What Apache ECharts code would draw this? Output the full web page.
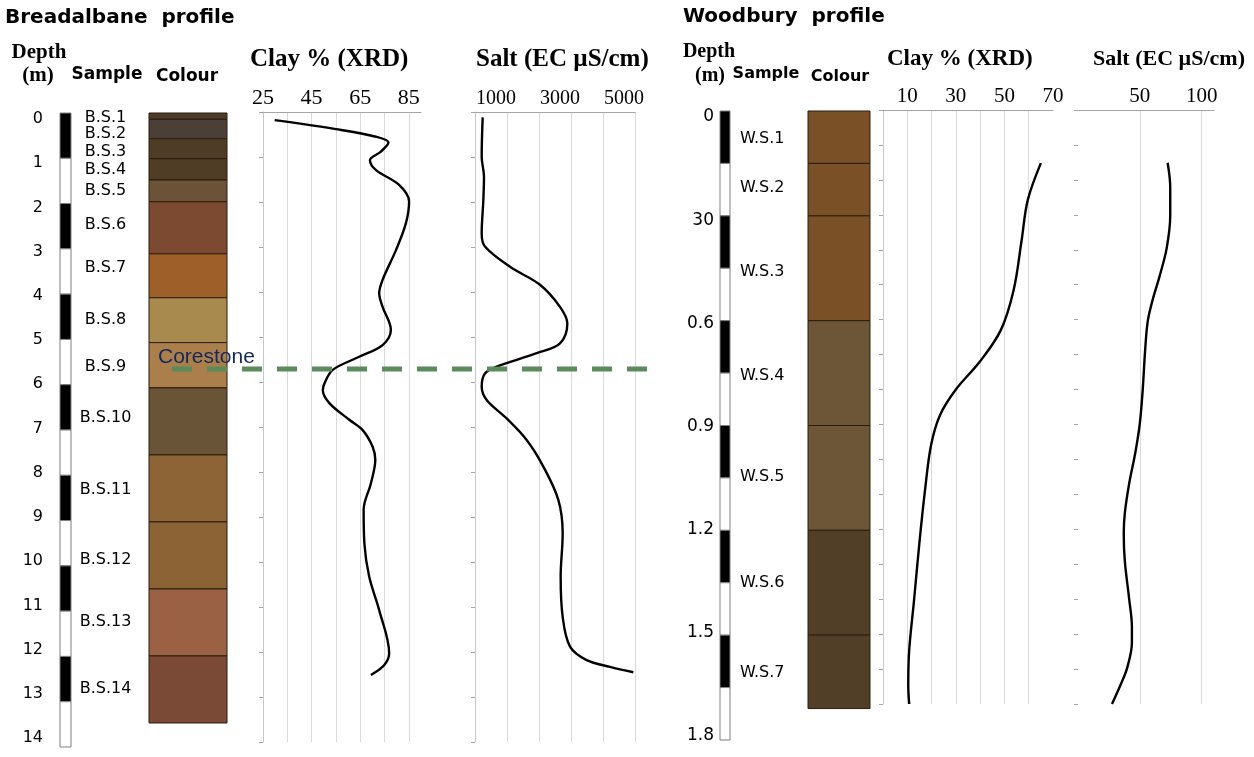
<!DOCTYPE html>
<html><head><meta charset="utf-8">
<script src="https://cdn.jsdelivr.net/npm/echarts@6/dist/echarts.min.js"></script>
<style>html,body{margin:0;padding:0;background:#fff}#c{width:1254px;height:757px}</style>
</head><body><div id="c"></div>
<script>
// ---------------- DATA ----------------
// Breadalbane profile
const bDepthTicks = [0,1,2,3,4,5,6,7,8,9,10,11,12,13,14];
const bSampleNames = ['B.S.1','B.S.2','B.S.3','B.S.4','B.S.5','B.S.6','B.S.7','B.S.8','B.S.9','B.S.10','B.S.11','B.S.12','B.S.13','B.S.14'];
const bSampleDepths = [0.11,0.46,0.86,1.25,1.72,2.47,3.42,4.57,5.6,6.73,8.32,9.87,11.24,12.71];
const bLayerTops    = [0,0.14,0.57,1.01,1.48,1.96,3.11,4.08,5.07,6.07,7.55,9.03,10.51,11.99];
const bLayerBottoms = [0.14,0.57,1.01,1.48,1.96,3.11,4.08,5.07,6.07,7.55,9.03,10.51,11.99,13.47];
const bLayerColours = ['#4b3a28','#4a4037','#4e3c27','#4f3d26','#6c5337','#7c4a31','#9e5f29','#a98a4e','#ab7f4c','#6a5437','#8c6435','#8b6334','#9a6145','#7b4a36'];
const bClayDepths = [0.18,0.38,0.55,0.68,0.88,1.07,1.29,1.62,1.99,2.47,3.07,3.73,4.03,4.33,4.84,5.18,5.44,5.73,6.03,6.18,6.47,6.84,7.07,7.44,7.73,8.25,8.84,9.58,10.33,11.07,12.03,12.29,12.51];
const bClayValues = [29.8,55,71.5,76.6,73.5,69,71.5,81,85.1,83.8,79.7,74.2,72.8,74.2,77.6,74.2,64.6,53.7,50.3,49.6,52.3,60.5,66,70.1,71.2,69.4,66.4,66.7,68.7,72.8,76.9,74.9,69.4];
const bClayGrid = [25,35,45,55,65,75,85];
const bClayTickLabels = [25,45,65,85];
const bSaltDepths = [0.12,0.99,1.44,1.96,2.7,2.99,3.44,3.84,4.33,4.70,5.14,5.36,5.66,5.81,6.10,6.4,6.81,7.29,7.88,8.62,9.36,10.33,11.22,11.88,12.18,12.33,12.45];
const bSaltValues = [240,209,281,260,209,312,1094,2031,2656,2885,2656,1927,677,312,209,365,990,1615,2135,2604,2740,2677,2740,2969,3490,4219,4948];
const bSaltGrid = [1000,2000,3000,4000,5000];
const bSaltTickLabels = [1000,3000,5000];
const corestoneDepth = 5.71;

// Woodbury profile
const wDepthTicks = [0,0.3,0.6,0.9,1.2,1.5,1.8];
const wDepthTickLabels = ['0','30','0.6','0.9','1.2','1.5','1.8'];
const wBarTicks = [0,0.15,0.3,0.45,0.6,0.75,0.9,1.05,1.2,1.35,1.5,1.65,1.8];
const wSampleNames = ['W.S.1','W.S.2','W.S.3','W.S.4','W.S.5','W.S.6','W.S.7'];
const wSampleDepths = [0.08,0.22,0.461,0.758,1.047,1.351,1.608];
const wLayerTops    = [0,0.15,0.3,0.6,0.9,1.2,1.5];
const wLayerBottoms = [0.15,0.3,0.6,0.9,1.2,1.5,1.71];
const wLayerColours = ['#7a5026','#7a5026','#7a5026','#6d5537','#6d5537','#523f28','#523f28'];
const wClayDepths = [0.152,0.258,0.372,0.515,0.63,0.72,0.80,0.873,0.959,1.088,1.245,1.402,1.545,1.646,1.70];
const wClayValues = [65,59.6,57.1,53.8,48.5,39.9,30,23.5,19.8,17.3,14.9,12.8,10.8,10.4,10.8];
const wClayGrid = [10,20,30,40,50,60];
const wClayTickLabels = [10,30,50,70];
const wSaltDepths = [0.151,0.221,0.303,0.396,0.477,0.547,0.605,0.687,0.803,0.897,0.978,1.071,1.153,1.211,1.292,1.397,1.479,1.525,1.595,1.648,1.70];
const wSaltValues = [72.5,74.6,74.6,71.7,65.9,60.1,56.4,54.3,52.3,50,46.5,41.3,37.9,37,37.9,41.3,43.6,43.6,39.9,34.1,27.5];
const wSaltGrid = [50,100];
const wSaltTickLabels = [50,100];

// ---------------- CHART ----------------
const SANS = "'DejaVu Sans', sans-serif";
const SERIF = "'Liberation Serif', 'Times New Roman', serif";
const chart = echarts.init(document.getElementById('c'), null, {renderer: 'canvas'});

const grids = [
  {left: 44, width: 5, top: 119, height: 619},   // 0 B depth labels
  {left: 60, width: 11, top: 113, height: 634},  // 1 B depth bar
  {left: 78, width: 55, top: 113, height: 634},  // 2 B samples
  {left: 149, width: 78, top: 113, height: 634}, // 3 B colour
  {left: 263, width: 158, top: 112, height: 630},// 4 B clay
  {left: 475, width: 160, top: 112, height: 630},// 5 B salt
  {left: 172, width: 475, top: 112, height: 630},// 6 corestone
  {left: 716, width: 5, top: 117, height: 619},  // 7 W depth labels
  {left: 720, width: 10, top: 111, height: 629}, // 8 W depth bar
  {left: 740, width: 47, top: 111, height: 629}, // 9 W samples
  {left: 808, width: 62, top: 111, height: 629}, // 10 W colour
  {left: 883, width: 170, top: 110, height: 594},// 11 W clay
  {left: 1078, width: 136, top: 110, height: 594}// 12 W salt
];

function hiddenX(gi) { return {gridIndex: gi, type: 'value', min: 0, max: 1, show: false}; }
function hiddenY(gi, max) { return {gridIndex: gi, type: 'value', min: 0, max: max, inverse: true, show: false}; }
function dataX(gi, min, max, gridVals, labelVals, fontSize) {
  return {
    gridIndex: gi, type: 'value', position: 'top', min: min, max: max,
    axisLine: {show: true, lineStyle: {color: '#a6a6a6', width: 1}},
    axisTick: {show: false, customValues: gridVals},
    axisLabel: {customValues: labelVals, fontFamily: SERIF, fontSize: fontSize, color: '#000', margin: 3,
                formatter: v => String(v)},
    splitLine: {show: true, lineStyle: {color: '#d9d9d9', width: 1}}
  };
}
function dataY(gi, max, interval, showLine) {
  return {
    gridIndex: gi, type: 'value', min: 0, max: max, interval: interval, inverse: true,
    axisLine: {show: showLine, lineStyle: {color: '#c8c8c8'}},
    axisTick: {show: true, length: 4, lineStyle: {color: '#a6a6a6'}},
    axisLabel: {show: false}, splitLine: {show: false}
  };
}

const xAxes = [
  hiddenX(0), hiddenX(1), hiddenX(2), hiddenX(3),
  dataX(4, 25, 90, bClayGrid, bClayTickLabels, 22),
  (function(){ const a = dataX(5, 0, 5000, bSaltGrid, bSaltTickLabels, 20); a.axisLabel.padding = [0, 22, 0, 0]; return a; })(),
  hiddenX(6), hiddenX(7), hiddenX(8), hiddenX(9), hiddenX(10),
  dataX(11, 0, 70, wClayGrid, wClayTickLabels, 21),
  dataX(12, 0, 110, wSaltGrid, wSaltTickLabels, 21)
];
const yAxes = [
  {gridIndex: 0, type: 'value', min: 0, max: 14, interval: 1, inverse: true,
   axisLine: {show: false}, axisTick: {show: false}, splitLine: {show: false},
   axisLabel: {fontFamily: SANS, fontSize: 16, color: '#000', margin: 1}},
  hiddenY(1, 14), hiddenY(2, 14), hiddenY(3, 14),
  dataY(4, 14, 1, true), dataY(5, 14, 1, true), hiddenY(6, 14),
  {gridIndex: 7, type: 'value', min: 0, max: 1.8, interval: 0.3, inverse: true,
   axisLine: {show: false}, axisTick: {show: false}, splitLine: {show: false},
   axisLabel: {fontFamily: SANS, fontSize: 17, color: '#000', margin: 2,
     formatter: v => { const i = wDepthTicks.findIndex(t => Math.abs(t - v) < 1e-6); return i >= 0 ? wDepthTickLabels[i] : ''; }}},
  hiddenY(8, 1.8), hiddenY(9, 1.8), hiddenY(10, 1.8),
  dataY(11, 1.7, 0.1, true), dataY(12, 1.7, 0.1, false)
];

function rectRender(stroke) {
  return function(params, api) {
    const p0 = api.coord([0, api.value(1)]);
    const p1 = api.coord([1, api.value(2)]);
    return {type: 'rect', shape: {x: p0[0], y: p0[1], width: p1[0] - p0[0], height: p1[1] - p0[1]},
            style: {fill: api.visual('color'), stroke: stroke, lineWidth: 1}};
  };
}
function barSegments(ticks) {
  const out = [];
  for (let i = 0; i < ticks.length - 1; i++) out.push({value: [0, ticks[i], ticks[i + 1]], itemStyle: {color: i % 2 ? '#ffffff' : '#000000'}});
  return out;
}
function layers(tops, bottoms, colours) {
  return tops.map((t, i) => ({value: [0, t, bottoms[i]], itemStyle: {color: colours[i]}}));
}
function profileLine(gi, values, depths) {
  return {type: 'line', xAxisIndex: gi, yAxisIndex: gi, data: values.map((v, i) => [v, depths[i]]),
          smooth: 0.35, symbol: 'none', lineStyle: {color: '#000', width: 2.4}, silent: true};
}
function sampleSeries(gi, names, depths, x, pos, fontSize) {
  return {type: 'scatter', xAxisIndex: gi, yAxisIndex: gi, symbolSize: 0, silent: true,
          itemStyle: {opacity: 1},
          data: depths.map(d => [x, d]),
          label: {show: true, position: pos, distance: 0, formatter: p => names[p.dataIndex],
                  fontFamily: SANS, fontSize: fontSize, color: '#000', opacity: 1}};
}

const series = [
  {type: 'custom', xAxisIndex: 1, yAxisIndex: 1, renderItem: rectRender('#7f7f7f'), encode: {x: 0, y: [1, 2]}, data: barSegments(bDepthTicks), silent: true},
  sampleSeries(2, bSampleNames, bSampleDepths, 0.5, 'inside', 16),
  {type: 'custom', xAxisIndex: 3, yAxisIndex: 3, renderItem: rectRender('#2b1d0e'), encode: {x: 0, y: [1, 2]}, data: layers(bLayerTops, bLayerBottoms, bLayerColours), silent: true},
  profileLine(4, bClayValues, bClayDepths),
  profileLine(5, bSaltValues, bSaltDepths),
  {type: 'custom', xAxisIndex: 8, yAxisIndex: 8, renderItem: rectRender('#7f7f7f'), encode: {x: 0, y: [1, 2]}, data: barSegments(wBarTicks), silent: true},
  sampleSeries(9, wSampleNames, wSampleDepths, 0, 'right', 16),
  {type: 'custom', xAxisIndex: 10, yAxisIndex: 10, renderItem: rectRender('#2b1d0e'), encode: {x: 0, y: [1, 2]}, data: layers(wLayerTops, wLayerBottoms, wLayerColours), silent: true},
  profileLine(11, wClayValues, wClayDepths),
  profileLine(12, wSaltValues, wSaltDepths),
  {type: 'line', xAxisIndex: 6, yAxisIndex: 6, data: [[0, corestoneDepth], [1, corestoneDepth]], symbol: 'none', silent: true,
   lineStyle: {color: '#5b8a5d', width: 5, type: [20, 15]}, z: 5},
  {type: 'scatter', xAxisIndex: 6, yAxisIndex: 6, data: [[0, corestoneDepth]], symbolSize: 0, silent: true, z: 6,
   itemStyle: {opacity: 1},
   label: {show: true, formatter: 'Corestone', position: 'top', align: 'left', offset: [-14, 0], distance: 1, opacity: 1,
           fontFamily: "'Liberation Sans', Arial, sans-serif", fontSize: 21, color: '#14285a'}}
];

function txt(x, y, text, font, align) {
  return {type: 'text', x: x, y: y, silent: true,
          style: {text: text, font: font, fill: '#000', textAlign: align || 'center', textVerticalAlign: 'middle'}};
}
const graphics = [
  txt(5, 18, 'Breadalbane  profile', "bold 20px 'DejaVu Sans'", 'left'),
  txt(39, 53, 'Depth', "bold 21px 'Liberation Serif'"),
  txt(38, 76, '(m)', "bold 21px 'Liberation Serif'"),
  txt(107, 75, 'Sample', "bold 17px 'DejaVu Sans'"),
  txt(187, 77, 'Colour', "bold 17px 'DejaVu Sans'"),
  txt(250, 60, 'Clay % (XRD)', "bold 25px 'Liberation Serif'", 'left'),
  txt(476, 60, 'Salt (EC µS/cm)', "bold 25px 'Liberation Serif'", 'left'),
  txt(683, 17, 'Woodbury  profile', "bold 20px 'DejaVu Sans'", 'left'),
  txt(709, 52, 'Depth', "bold 20px 'Liberation Serif'"),
  txt(710, 76, '(m)', "bold 20px 'Liberation Serif'"),
  txt(766, 74, 'Sample', "bold 16px 'DejaVu Sans'"),
  txt(840, 77, 'Colour', "bold 16px 'DejaVu Sans'"),
  txt(887, 59, 'Clay % (XRD)', "bold 23px 'Liberation Serif'", 'left'),
  txt(1093, 59, 'Salt (EC µS/cm)', "bold 22px 'Liberation Serif'", 'left')
];

chart.setOption({
  animation: false,
  backgroundColor: '#ffffff',
  grid: grids,
  xAxis: xAxes,
  yAxis: yAxes,
  series: series,
  graphic: graphics
});
</script></body></html>
